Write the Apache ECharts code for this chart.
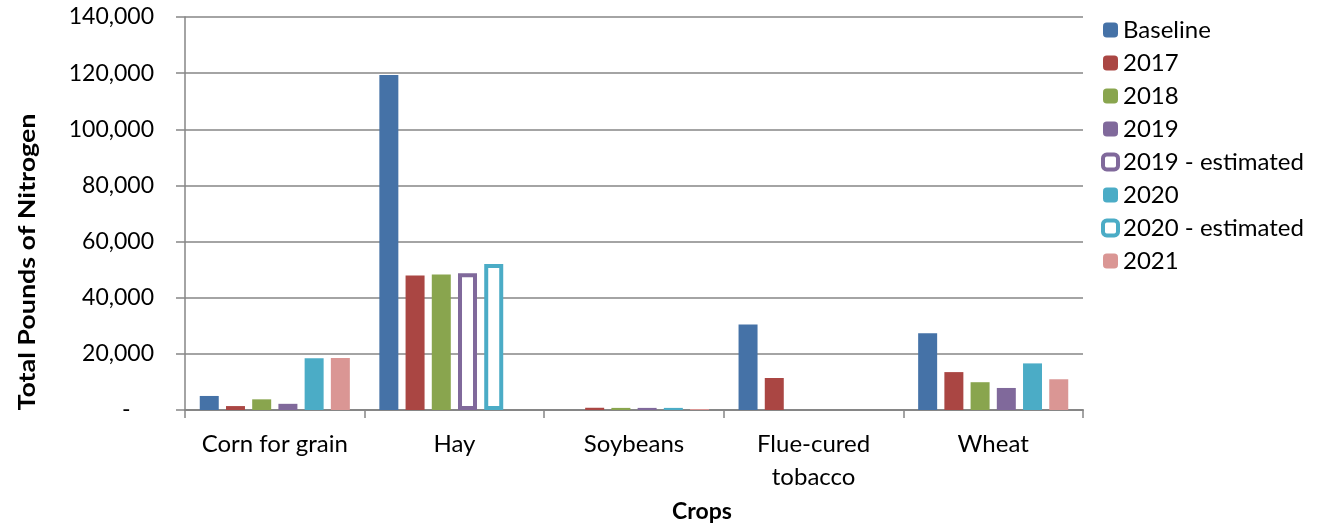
<!DOCTYPE html>
<html>
<head>
<meta charset="utf-8">
<script src="https://cdn.jsdelivr.net/npm/echarts@6/dist/echarts.min.js"></script>
<style>html,body{margin:0;padding:0;background:#fff;}#c{width:1326px;height:529px;}</style>
</head>
<body>
<div id="c"></div>
<script>
const categories = ['Corn for grain', 'Hay', 'Soybeans', 'Flue-cured tobacco', 'Wheat'];
const baseline   = [5000, 119300, null, 30500, 27300];
const y2017      = [1400, 47900, 800, 11400, 13500];
const y2018      = [3800, 48300, 750, null, 9900];
const y2019      = [2200, null, 750, null, 7850];
const y2019est   = [null, 48700, null, null, null];
const y2020      = [18400, null, 750, null, 16600];
const y2020est   = [null, 52000, null, null, null];
const y2021      = [18500, null, 350, null, 10950];
const yTicks     = [0, 20000, 40000, 60000, 80000, 100000, 120000, 140000];

const FONT = 'Lato';
const chart = echarts.init(document.getElementById('c'), null, {renderer: 'canvas'});

function filled(name, data, color, stack) {
  return {name, type: 'bar', data, stack, barWidth: 19, barGap: '38%',
    itemStyle: {color}, emphasis: {disabled: true}};
}
function outlined(name, data, color, stack) {
  return {name, type: 'bar', data, stack, barWidth: 19, barGap: '38%',
    itemStyle: {color: '#ffffff', borderColor: color, borderWidth: 4}, emphasis: {disabled: true}};
}

chart.setOption({
  animation: false,
  grid: {left: 185, right: 243, top: 17, bottom: 119, containLabel: false},
  legend: {
    orient: 'vertical', left: 1101, top: 18, padding: 0,
    itemWidth: 15, itemHeight: 15, itemGap: 9,
    textStyle: {fontFamily: FONT, fontSize: 24, color: '#000'},
    data: [
      {name: 'Baseline'}, {name: '2017'}, {name: '2018'}, {name: '2019'},
      {name: '2019 - estimated', itemStyle: {borderWidth: 4}},
      {name: '2020'},
      {name: '2020 - estimated', itemStyle: {borderWidth: 4}},
      {name: '2021'}
    ],
    selectedMode: false
  },
  xAxis: {
    type: 'category', data: categories,
    axisLine: {lineStyle: {color: '#868686', width: 2}},
    axisTick: {show: true, length: 8, lineStyle: {color: '#868686', width: 1.5}},
    axisLabel: {
      interval: 0, fontFamily: FONT, fontSize: 24, color: '#000', margin: 18, lineHeight: 33,
      formatter: v => v === 'Flue-cured tobacco' ? 'Flue-cured\ntobacco' : v
    }
  },
  yAxis: {
    type: 'value', min: 0, max: 140000, interval: 20000,
    axisLine: {show: true, lineStyle: {color: '#868686', width: 1.5}},
    axisTick: {show: true, length: 9, lineStyle: {color: '#868686', width: 1.5}},
    splitLine: {show: true, lineStyle: {color: '#868686', width: 1.5}},
    axisLabel: {
      fontFamily: FONT, fontSize: 23, color: '#000', margin: 31,
      formatter: v => yTicks.includes(v) ? (v === 0 ? '-    ' : v.toLocaleString('en-US')) : ''
    }
  },
  graphic: [
    {type: 'text', x: 702, y: 512, style: {text: 'Crops', font: 'bold 23px ' + FONT, fill: '#000', textAlign: 'center', textVerticalAlign: 'middle'}},
    {type: 'text', x: 28, y: 262, rotation: Math.PI / 2, scaleX: 1.22, style: {text: 'Total Pounds of Nitrogen', font: 'bold 22px ' + FONT, fill: '#000', textAlign: 'center', textVerticalAlign: 'middle'}}
  ],
  series: [
    filled('Baseline', baseline, '#4572A7', 'a'),
    filled('2017', y2017, '#AA4643', 'b'),
    filled('2018', y2018, '#89A54E', 'c'),
    filled('2019', y2019, '#80699B', 'd'),
    outlined('2019 - estimated', y2019est, '#80699B', 'd'),
    filled('2020', y2020, '#4BACC6', 'e'),
    outlined('2020 - estimated', y2020est, '#4BACC6', 'e'),
    filled('2021', y2021, '#DA9694', 'f')
  ]
});
</script>
</body>
</html>
